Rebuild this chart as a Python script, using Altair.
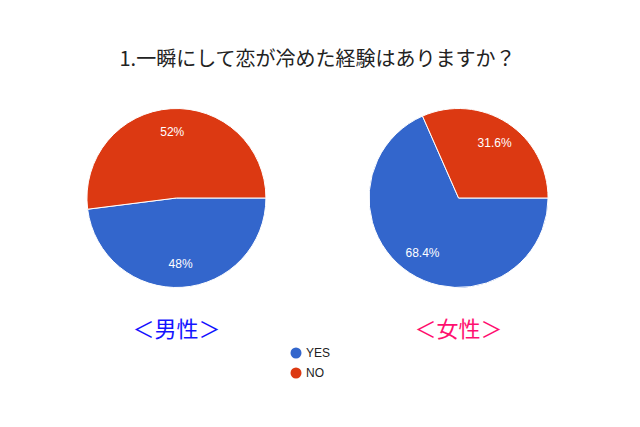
import math
import altair as alt
import pandas as pd

title_text = "1.一瞬にして恋が冷めた経験はありますか？"
genders = ["男性", "女性"]
gender_labels = ["＜男性＞", "＜女性＞"]
gender_colors = ["#1414ff", "#ff1070"]
answers = ["YES", "NO"]
answer_colors = ["#3366cc", "#dc3912"]
male_values = [48, 52]
female_values = [68.4, 31.6]

rows = []
for g, vals in zip(genders, [male_values, female_values]):
    for i, (a, v) in enumerate(zip(answers, vals)):
        rows.append({"gender": g, "answer": a, "value": v, "order": i, "label": f"{v:g}%"})
df = pd.DataFrame(rows)
lab_df = pd.DataFrame({"gender": genders, "text": gender_labels})

x_enc = alt.X("gender:N", scale=alt.Scale(type="point", domain=genders, padding=0.597), axis=None)
y_pie = alt.value(114)
theta_scale = alt.Scale(domain=[0, 100], range=[math.pi / 2, math.pi / 2 + 2 * math.pi])

base = alt.Chart(df).transform_window(
    cum="sum(value)", groupby=["gender"], sort=[alt.SortField("order")], frame=[None, 0]
).transform_calculate(
    start="datum.cum - datum.value", mid="datum.cum - datum.value / 2"
)

arcs = base.mark_arc(outerRadius=89.5, stroke="white", strokeWidth=1).encode(
    x=x_enc,
    y=y_pie,
    theta=alt.Theta("start:Q", scale=theta_scale, stack=False),
    theta2="cum:Q",
    color=alt.Color(
        "answer:N",
        scale=alt.Scale(domain=answers, range=answer_colors),
        legend=alt.Legend(
            title=None, orient="none", legendX=282, legendY=263,
            symbolType="circle", symbolSize=121, symbolStrokeWidth=0,
            labelFont="Liberation Sans", labelFontSize=12, labelColor="#222222",
            rowPadding=8, labelOffset=4,
        ),
    ),
)

pct = base.mark_text(radius=66, color="white", font="Liberation Sans", fontSize=12,
                     align="center", baseline="middle").encode(
    x=x_enc,
    y=y_pie,
    theta=alt.Theta("mid:Q", scale=theta_scale, stack=False),
    text="label:N",
)

glabels = alt.Chart(lab_df).mark_text(font="Noto Sans CJK JP", fontSize=22,
                                      align="center", baseline="middle").encode(
    x=x_enc,
    y=alt.value(246),
    text="text:N",
    color=alt.Color("gender:N", scale=alt.Scale(domain=genders, range=gender_colors), legend=None),
)

chart = alt.layer(arcs, pct, glabels).resolve_scale(color="independent").properties(
    width=619, height=328,
    title=alt.TitleParams(title_text, font="Noto Sans CJK JP", fontSize=20, fontWeight="normal",
                          color="#222222", anchor="middle", offset=14),
    padding={"left": 0, "top": 42, "right": 0, "bottom": 0},
).configure_view(stroke=None)

chart.save("out.html", embed_options={"renderer": "svg", "actions": False})
